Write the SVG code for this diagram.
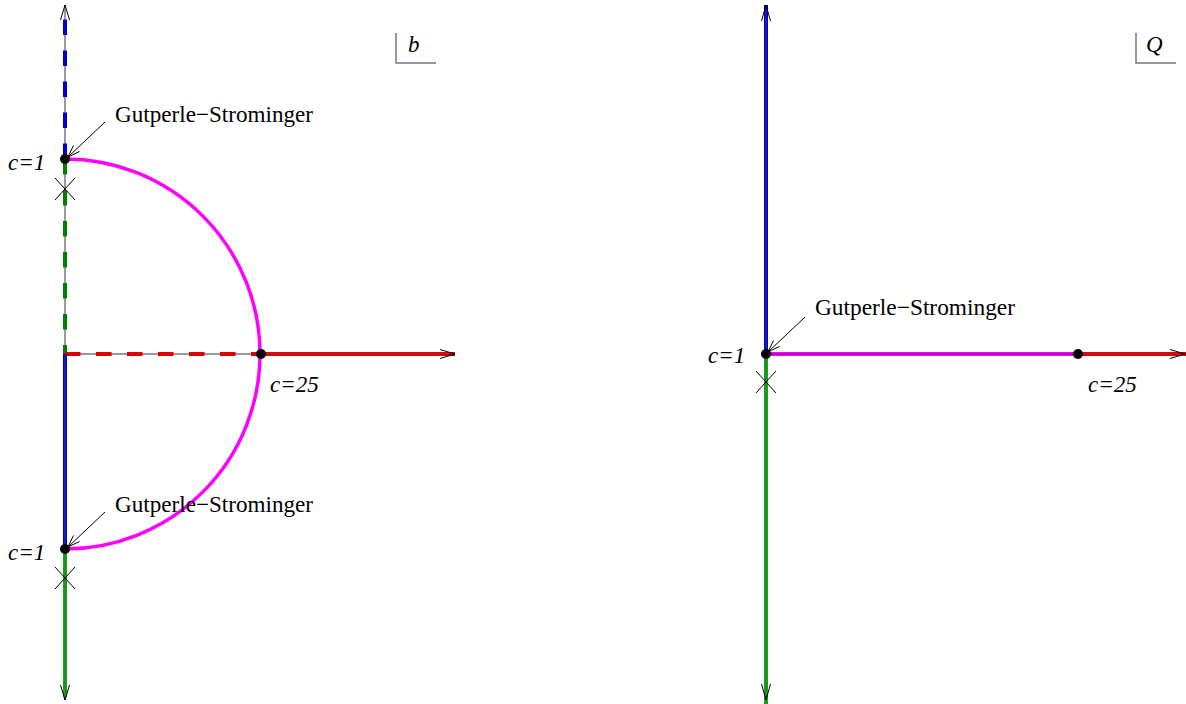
<svg xmlns="http://www.w3.org/2000/svg" width="1186" height="704" viewBox="0 0 1186 704">
<style>
.ax{stroke:#7a7a7a;stroke-width:1.5;fill:none}
.ovl{stroke:#555;stroke-width:1.2;fill:none;opacity:0.55}
.blue{stroke:#0000cc;stroke-width:4;fill:none}
.green{stroke:#11a811;stroke-width:4;fill:none}
.dgreen{stroke:#008000;stroke-width:4;fill:none}
.red{stroke:#e00000;stroke-width:4;fill:none}
.mag{stroke:#ff00ff;stroke-width:3.5;fill:none}
.dash{stroke-dasharray:15.5 15.5}
.arr{stroke:#000;stroke-width:1;fill:none}
.box{stroke:#777;stroke-width:1.5;fill:none}
.dot{fill:#000}
.lbl{font-family:"Liberation Serif",serif;font-size:23px;fill:#000}
.it{font-family:"Liberation Serif",serif;font-style:italic;font-size:23px;fill:#000}
</style>
<rect width="1186" height="704" fill="#fff"/>

<g id="connectors">
  <line class="ax" x1="65" y1="5" x2="65" y2="700"/>
  <line class="ax" x1="65" y1="354" x2="455" y2="354"/>
  <path class="blue dash" d="M65,159 L65,5"/>
  <path class="dgreen dash" d="M65,159 L65,354"/>
  <path class="red dash" d="M65,354 L261,354"/>
  <path class="blue" d="M65,354 L65,549"/>
  <path class="green" d="M65,549 L65,697"/>
  <path class="red" d="M261,354 L455,354"/>
  <path class="mag" d="M65,159 A195,195 0 0 1 65,549"/>
  <line class="ovl" x1="65" y1="354" x2="65" y2="700"/>
  <line class="ovl" x1="261" y1="354" x2="455" y2="354"/>
  <polyline class="arr" points="60.5,20 65,5 69.5,20"/>
  <polyline class="arr" points="60.5,685 65,700 69.5,685"/>
  <polyline class="arr" points="440,349.5 455,354 440,358.5"/>

  <path class="blue" d="M766,5 L766,354"/>
  <path class="green" d="M766,354 L766,704"/>
  <path class="mag" d="M766,354 L1078,354" style="stroke-width:4"/>
  <line x1="766" y1="354" x2="1078" y2="354" style="stroke:#9a00b0;stroke-width:1.3"/>
  <path class="red" d="M1078,354 L1186,354"/>
  <line class="ovl" x1="766" y1="5" x2="766" y2="700"/>
  <line class="ovl" x1="1078" y1="354" x2="1186" y2="354"/>
  <polyline class="arr" points="761.5,21 766,5 770.5,21"/>
  <polyline class="arr" points="761.5,684 766,700 770.5,684"/>
  <polyline class="arr" points="1170,349.5 1185,354 1170,358.5"/>

  <line class="arr" x1="105" y1="122" x2="68" y2="157"/>
  <polyline class="arr" points="73.5,145.5 68,157 79.5,151.5"/>
  <line class="arr" x1="105" y1="512" x2="68" y2="547"/>
  <polyline class="arr" points="73.5,535.5 68,547 79.5,541.5"/>
  <line class="arr" x1="805" y1="317" x2="768" y2="352"/>
  <polyline class="arr" points="773.5,340.5 768,352 779.5,346.5"/>
</g>

<g id="left-upper-gs">
  <circle class="dot" cx="65" cy="159" r="5"/>
  <text class="it" x="8" y="170">c=1</text>
  <text class="lbl" x="115" y="122" textLength="198" lengthAdjust="spacingAndGlyphs">Gutperle−Strominger</text>
  <path class="arr" d="M55,178 L75,200 M75,178 L55,200"/>
</g>
<g id="left-lower-gs">
  <circle class="dot" cx="65" cy="549" r="5"/>
  <text class="it" x="8" y="560">c=1</text>
  <text class="lbl" x="115" y="512" textLength="198" lengthAdjust="spacingAndGlyphs">Gutperle−Strominger</text>
  <path class="arr" d="M55,567 L75,589 M75,567 L55,589"/>
</g>
<g id="left-c25">
  <circle class="dot" cx="261" cy="354" r="5"/>
  <text class="it" x="270" y="392">c=25</text>
</g>
<g id="label-b">
  <path class="box" d="M396,33 L396,63 L436,63"/>
  <text class="it" x="408" y="52">b</text>
</g>

<g id="right-gs">
  <circle class="dot" cx="766" cy="354" r="5"/>
  <text class="it" x="708" y="363">c=1</text>
  <text class="lbl" x="815" y="315" textLength="200" lengthAdjust="spacingAndGlyphs">Gutperle−Strominger</text>
  <path class="arr" d="M756,371 L776,393 M776,371 L756,393"/>
</g>
<g id="right-c25">
  <circle class="dot" cx="1078" cy="354" r="5"/>
  <text class="it" x="1088" y="392">c=25</text>
</g>
<g id="label-Q">
  <path class="box" d="M1136,33 L1136,63 L1176,63"/>
  <text class="it" x="1146" y="52">Q</text>
</g>
</svg>
